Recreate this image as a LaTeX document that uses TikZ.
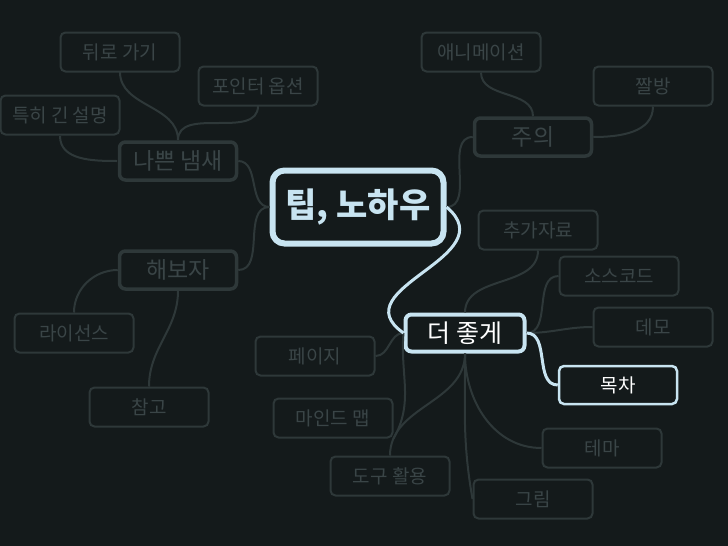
\documentclass[tikz,border=0pt]{standalone}
\usepackage{fontspec}
\setmainfont{Noto Sans CJK KR}
\definecolor{bg}{HTML}{141A1B}
\definecolor{dim}{HTML}{2E3839}
\definecolor{dimtext}{HTML}{3A4547}
\definecolor{hi}{HTML}{C8E4F1}
\begin{document}
\begin{tikzpicture}[x=1pt,y=1pt,
  leaf/.style={draw=dim,line width=2pt,rounded corners=5pt,minimum width=119pt,minimum height=39pt,inner sep=0pt,text=dimtext,font=\fontsize{19}{19}\selectfont},
  topic/.style={draw=dim,line width=3.5pt,rounded corners=6pt,minimum width=117pt,minimum height=38pt,inner sep=0pt,text=dimtext,font=\fontsize{23}{23}\selectfont},
  root/.style={draw=hi,line width=6pt,rounded corners=12pt,minimum width=171pt,minimum height=73pt,inner sep=0pt,text=hi,font=\fontsize{34}{34}\selectfont\bfseries},
  onpath/.style={draw=hi,line width=4pt,rounded corners=6pt,minimum width=119pt,minimum height=37pt,inner sep=0pt,text=white,font=\fontsize{25}{25}\selectfont},
  picked/.style={draw=hi,line width=2.5pt,rounded corners=5pt,minimum width=118pt,minimum height=38pt,inner sep=0pt,text=white,font=\fontsize{19}{19}\selectfont},
  link/.style={draw=dim,line width=2pt},
  hilink/.style={draw=hi,line width=3pt}]
\fill[bg] (0,0) rectangle (728,-546);
\useasboundingbox (0,0) rectangle (728,-546);

\draw[link] (178,-140) to [out=90,in=-90] (120,-72);
\draw[link] (178,-140) to [out=90,in=-90] (258,-106);
\draw[link] (117,-161) to [out=180,in=-90] (60,-136);

\node[root](tip) at (358,-207) {팁, 노하우};
\node[topic](bad) at (178,-161) {나쁜 냄새};
\node[topic](try) at (178,-270) {해보자};
\node[topic](care) at (533,-137) {주의};
\node[onpath](better) at (465,-333) {더 좋게};

\node[leaf](back) at (120,-52) {뒤로 가기};
\node[leaf](pointer) at (258,-86) {포인터 옵션};
\node[leaf](long) at (60,-115) {특히 긴 설명};
\node[leaf](anim) at (481,-52) {애니메이션};
\node[leaf](jjal) at (653,-86) {짤방};
\node[leaf](license) at (74,-333) {라이선스};
\node[leaf](refs) at (149,-407) {참고};
\node[leaf](extra) at (538,-230) {추가자료};
\node[leaf](source) at (619,-276) {소스코드};
\node[leaf](demo) at (653,-327) {데모};
\node[picked](toc) at (618,-385) {목차};
\node[leaf](theme) at (602,-448) {테마};
\node[leaf](image) at (533,-499) {그림};
\node[leaf](tools) at (390,-476) {도구 활용};
\node[leaf](mindmap) at (333,-418) {마인드 맵};
\node[leaf](page) at (315,-356) {페이지};

\draw[link] (tip.west) to [out=180,in=0] (bad.east);
\draw[link] (tip.west) to [out=180,in=0] (try.east);
\draw[link] (tip.east) to [out=0,in=180] (care.west);
\draw[link] (care.north) to [out=90,in=-90] (anim.south);
\draw[link] (care.east) to [out=0,in=-90] (jjal.south);
\draw[link] (try.west) to [out=180,in=90] (license.north);
\draw[link] (try.south) to [out=-90,in=90] (refs.north);

\draw[link] (better.north) to [out=90,in=-90] (extra.south);
\draw[link] (better.east) to [out=0,in=180] (source.west);
\draw[link] (better.east) to [out=0,in=180] (demo.west);
\draw[link] (better.south) to [out=-90,in=180] (theme.west);
\draw[link] (better.south) to [out=-90,in=100] (image.west);
\draw[link] (better.south) to [out=-90,in=90] (tools.north);
\draw[link] (better.west) to [out=-95,in=60] (mindmap.south east);
\draw[link] (better.west) to [out=180,in=0] (page.east);

\draw[hilink] (tip.east) to [out=-40,in=145,looseness=1.5] (better.west);
\draw[hilink] (better.east) to [out=0,in=180] (toc.west);
\end{tikzpicture}
\end{document}
